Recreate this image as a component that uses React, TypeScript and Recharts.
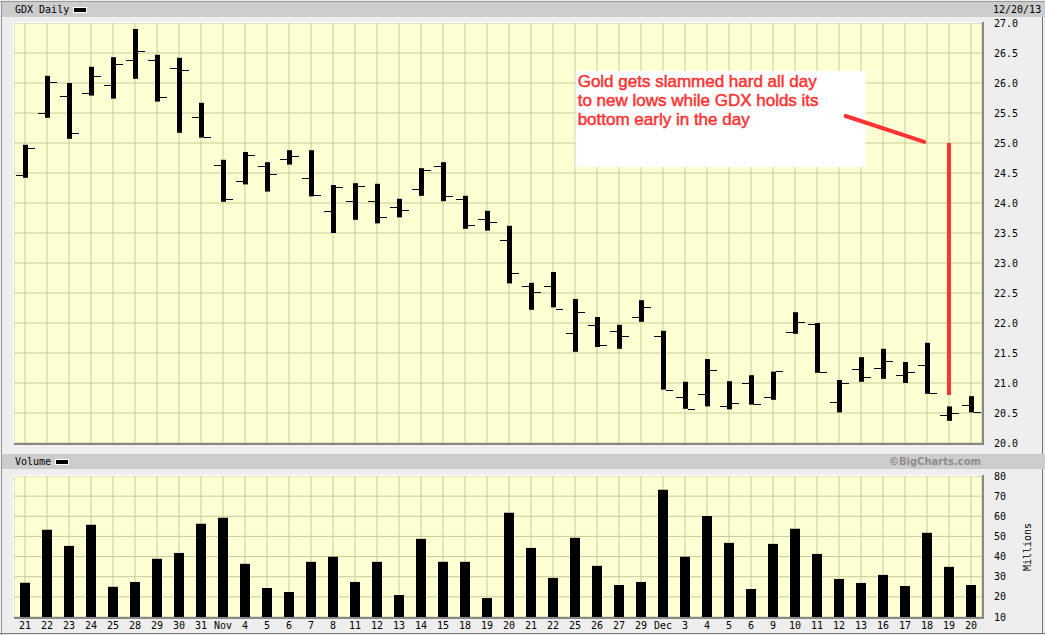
import React from 'react';
import {
  ComposedChart,
  Bar,
  XAxis,
  YAxis,
  CartesianGrid,
  ReferenceLine,
  ReferenceArea,
} from 'recharts';

// trading days, 21 Oct - 20 Dec 2013
const dayLabels = [
  '21', '22', '23', '24', '25', '28', '29', '30', '31', 'Nov',
  '4', '5', '6', '7', '8', '11', '12', '13', '14', '15',
  '18', '19', '20', '21', '22', '25', '26', '27', '29', 'Dec',
  '3', '4', '5', '6', '9', '10', '11', '12', '13', '16',
  '17', '18', '19', '20',
];
const openPrices = [
  24.47, 25.5, 25.79, 25.84, 25.96, 26.38, 26.38, 26.25, 25.43, 24.64,
  24.36, 24.61, 24.73, 24.41, 23.86, 24.04, 24.04, 23.94, 24.24, 24.62,
  24.06, 23.73, 23.38, 22.61, 22.61, 21.84, 21.96, 21.86, 22.1, 21.78,
  20.76, 20.81, 20.61, 21.0, 20.76, 21.85, 21.98, 20.68, 21.23, 21.25,
  21.13, 21.3, 20.46, 20.63,
];
const highPrices = [
  24.97, 26.12, 26.0, 26.27, 26.43, 26.9, 26.47, 26.42, 25.67, 24.72,
  24.85, 24.68, 24.88, 24.88, 24.3, 24.33, 24.32, 24.07, 24.58, 24.68,
  24.12, 23.87, 23.62, 22.67, 22.85, 22.4, 22.1, 21.97, 22.38, 21.87,
  21.02, 21.4, 21.03, 21.13, 21.19, 22.18, 22.0, 21.05, 21.43, 21.57,
  21.35, 21.67, 20.61, 20.78,
];
const lowPrices = [
  24.42, 25.42, 25.07, 25.79, 25.74, 26.07, 25.69, 25.17, 25.09, 24.02,
  24.31, 24.19, 24.64, 24.11, 23.5, 23.72, 23.66, 23.76, 24.12, 24.03,
  23.57, 23.54, 22.66, 22.22, 22.26, 21.52, 21.6, 21.57, 22.02, 20.89,
  20.57, 20.61, 20.56, 20.64, 20.72, 21.82, 21.17, 20.51, 21.02, 21.07,
  21.0, 20.82, 20.37, 20.51,
];
const closePrices = [
  24.91, 26.02, 25.16, 26.11, 26.31, 26.53, 25.76, 26.21, 25.1, 24.06,
  24.8, 24.48, 24.78, 24.13, 24.26, 24.29, 23.76, 23.89, 24.55, 24.11,
  23.64, 23.68, 22.84, 22.51, 22.24, 22.18, 21.64, 21.79, 22.26, 20.88,
  20.56, 21.21, 20.66, 20.65, 21.2, 22.01, 21.18, 21.0, 21.1, 21.36,
  21.18, 20.84, 20.5, 20.51,
];
// millions of shares
const volumes = [
  27, 53.3, 45.3, 55.8, 25, 27.4, 38.9, 41.8, 56.3, 59.3,
  36.4, 24.4, 22.4, 37.4, 39.9, 27.4, 37.4, 20.9, 48.8, 37.4,
  37.4, 19.4, 61.7, 44.3, 29.4, 49.3, 35.4, 25.9, 27.4, 73.2,
  39.9, 60.2, 46.8, 23.9, 46.3, 53.8, 41.3, 28.9, 26.9, 30.9,
  25.4, 51.8, 34.9, 25.9,
];
const priceTicks = [20, 20.5, 21, 21.5, 22, 22.5, 23, 23.5, 24, 24.5, 25, 25.5, 26, 26.5, 27];
const volumeTicks = [10, 20, 30, 40, 50, 60, 70, 80];

// annotation, in chart units (day index, price)
const noteLines = [
  'Gold gets slammed hard all day',
  'to new lows while GDX holds its',
  'bottom early in the day',
];
const noteBox = { x1: 25.03, x2: 38.2, y1: 24.6, y2: 26.2 };
const pointerLine = [{ x: 37.3, y: 25.45 }, { x: 40.88, y: 25.02 }];
const dropLine = [{ x: 42, y: 25.0 }, { x: 42, y: 20.8 }];

const rows = dayLabels.map((label, i) => ({
  i,
  label,
  open: openPrices[i],
  high: highPrices[i],
  low: lowPrices[i],
  close: closePrices[i],
  range: [lowPrices[i], highPrices[i]],
  volume: volumes[i],
}));
const dayIdx = rows.map((r) => r.i);

const MONO = '"DejaVu Sans Mono", monospace';
const GRID = '#C9C99A';
const PLOT_BG = '#FFFFD4';
const RED = '#FF3333';
const axisTick = { fontFamily: MONO, fontSize: 10, fill: '#000' };

function OhlcBar(props: any) {
  const { x, y, width, height, payload } = props;
  if (!payload) return null;
  const top = Math.min(y, y + height);
  const h = Math.abs(height);
  const span = payload.high - payload.low || 1;
  const yAt = (v: number) => Math.round(top + ((payload.high - v) / span) * h);
  const cx = Math.round(x + width / 2);
  return (
    <g>
      <rect x={cx - 2} y={top} width={5} height={Math.max(h, 1)} fill="#000" />
      <rect x={cx - 9} y={yAt(payload.open)} width={7} height={1} fill="#000" />
      <rect x={cx + 3} y={yAt(payload.close)} width={7} height={1} fill="#000" />
    </g>
  );
}

function NoteText(props: any) {
  const vb = props.viewBox || { x: 0, y: 0 };
  return (
    <text
      x={vb.x + 2}
      y={vb.y + 16}
      fill={RED}
      stroke={RED}
      strokeWidth={0.5}
      fontSize={17}
      fontFamily='"Liberation Sans", Arial, sans-serif'
    >
      {noteLines.map((line, k) => (
        <tspan key={k} x={vb.x + 2} dy={k === 0 ? 0 : 19}>
          {line}
        </tspan>
      ))}
    </text>
  );
}

const abs = (s: React.CSSProperties): React.CSSProperties => ({ position: 'absolute', ...s });

export default function App() {
  return (
    <div
      style={{
        position: 'fixed',
        left: 0,
        top: 0,
        width: 1045,
        height: 635,
        background: '#EEEEEE',
        overflow: 'hidden',
        fontFamily: MONO,
      }}
    >
      {/* outer frame */}
      <div style={abs({ left: 0, top: 1, width: 1045, height: 1, background: '#999' })} />
      <div style={abs({ left: 1, top: 1, width: 1, height: 634, background: '#999' })} />
      <div style={abs({ left: 0, top: 633, width: 1045, height: 1, background: '#777' })} />
      <div style={abs({ left: 1042, top: 17, width: 1, height: 617, background: '#777' })} />

      {/* price header */}
      <div style={abs({ left: 2, top: 2, width: 1043, height: 15, background: '#CCCCCC' })} />
      <div style={abs({ left: 15, top: 3, fontSize: 10, lineHeight: '13px', color: '#000' })}>GDX Daily</div>
      <div style={abs({ left: 73, top: 7, width: 12, height: 4, background: '#000', border: '1px solid #fff' })} />
      <div style={abs({ left: 993, top: 3, fontSize: 10, lineHeight: '13px', color: '#000' })}>12/20/13</div>

      <div style={abs({ left: 0, top: 0 })}>
        <ComposedChart width={1045} height={455} data={rows} margin={{ top: 23, right: 0, bottom: 12, left: 14 }}>
          <CartesianGrid fill={PLOT_BG} stroke={GRID} />
          <XAxis dataKey="i" type="number" domain={[-0.5, 43.5]} ticks={dayIdx} interval={0} hide />
          <YAxis
            orientation="right"
            domain={[20, 27]}
            ticks={priceTicks}
            interval={0}
            width={63}
            tickSize={0}
            tickMargin={12}
            axisLine={false}
            tickFormatter={(v: number) => v.toFixed(1)}
            tick={axisTick}
          />
          <ReferenceArea
            x1={noteBox.x1}
            x2={noteBox.x2}
            y1={noteBox.y1}
            y2={noteBox.y2}
            fill="#FFFFFF"
            fillOpacity={1}
            stroke="none"
            label={<NoteText />}
          />
          <Bar dataKey="range" shape={<OhlcBar />} barSize={22} isAnimationActive={false} />
          <ReferenceLine segment={pointerLine} stroke={RED} strokeWidth={4} strokeLinecap="round" />
          <ReferenceLine segment={dropLine} stroke={RED} strokeWidth={4} />
        </ComposedChart>
      </div>

      {/* price plot bevel */}
      <div style={abs({ left: 13, top: 22, width: 969, height: 1, background: '#fff' })} />
      <div style={abs({ left: 13, top: 22, width: 1, height: 421, background: '#fff' })} />
      <div style={abs({ left: 14, top: 443, width: 970, height: 2, background: '#888' })} />
      <div style={abs({ left: 982, top: 22, width: 2, height: 423, background: '#888' })} />

      {/* volume header */}
      <div style={abs({ left: 2, top: 454, width: 1043, height: 15, background: '#CCCCCC' })} />
      <div style={abs({ left: 15, top: 455, fontSize: 10, lineHeight: '13px', color: '#000' })}>Volume</div>
      <div style={abs({ left: 55, top: 459, width: 12, height: 4, background: '#000', border: '1px solid #fff' })} />
      <div
        style={abs({
          left: 880,
          width: 101,
          top: 455,
          textAlign: 'right',
          fontFamily: '"DejaVu Sans", sans-serif',
          fontWeight: 'bold',
          fontSize: 10,
          lineHeight: '13px',
          color: '#8C8C8C',
        })}
      >
        ©BigCharts.com
      </div>

      <div style={abs({ left: 0, top: 445 })}>
        <ComposedChart width={1045} height={190} data={rows} margin={{ top: 31, right: 0, bottom: 0, left: 14 }}>
          <CartesianGrid fill={PLOT_BG} stroke={GRID} />
          <XAxis
            dataKey="i"
            type="number"
            domain={[-0.5, 43.5]}
            ticks={dayIdx}
            interval={0}
            height={18}
            tickSize={0}
            tickMargin={5}
            axisLine={false}
            tickFormatter={(v: number) => dayLabels[v]}
            tick={axisTick}
          />
          <YAxis
            orientation="right"
            domain={[10, 80]}
            ticks={volumeTicks}
            interval={0}
            width={63}
            tickSize={0}
            tickMargin={12}
            axisLine={false}
            tick={axisTick}
          />
          <Bar dataKey="volume" fill="#000" barSize={10} isAnimationActive={false} />
        </ComposedChart>
      </div>

      {/* volume plot bevel */}
      <div style={abs({ left: 13, top: 475, width: 969, height: 1, background: '#fff' })} />
      <div style={abs({ left: 13, top: 475, width: 1, height: 142, background: '#fff' })} />
      <div style={abs({ left: 14, top: 617, width: 970, height: 2, background: '#888' })} />
      <div style={abs({ left: 982, top: 475, width: 2, height: 144, background: '#888' })} />

      <div
        style={abs({
          left: 1028,
          top: 547,
          fontSize: 10,
          lineHeight: '12px',
          color: '#000',
          transform: 'translate(-50%, -50%) rotate(-90deg)',
          whiteSpace: 'nowrap',
        })}
      >
        Millions
      </div>
    </div>
  );
}
